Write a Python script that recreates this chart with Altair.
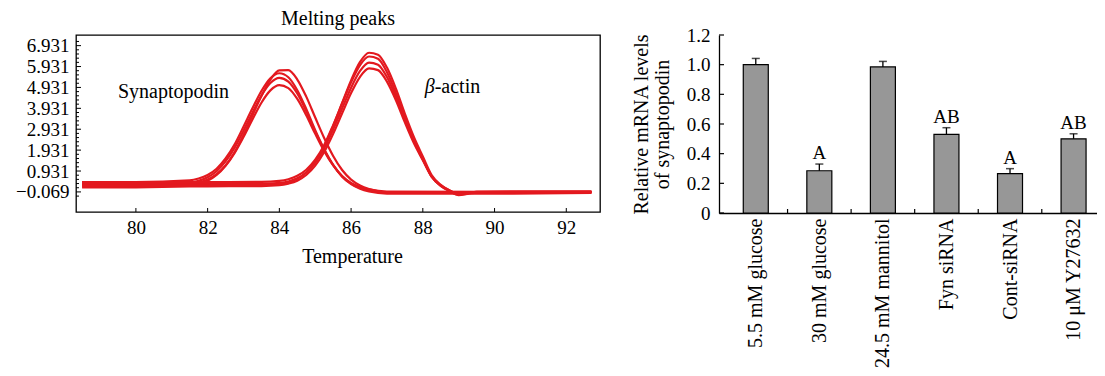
import altair as alt
import pandas as pd
import json

FONT = "Liberation Serif"
RED = "#e3191f"

# ---------------- Left panel: melting peaks ----------------
TEMP_TICKS = [80, 82, 84, 86, 88, 90, 92]
Y_TICKS = [-0.069, 0.931, 1.931, 2.931, 3.931, 4.931, 5.931, 6.931]
X_DOMAIN = [78.33, 92.94]
Y_DOMAIN = [-1.03, 7.44]

SYN_T = [78.5, 80.0, 81.5, 81.75, 82.0, 82.25, 82.5, 82.75, 83.0, 83.25, 83.5,
         83.75, 84.0, 84.25, 84.5, 84.75, 85.0, 85.25, 85.5, 85.75, 86.0,
         86.25, 86.5, 87.0, 90.0, 92.7]
SYN_1 = [0.15, 0.15, 0.22, 0.31, 0.46, 0.74, 1.18, 1.79, 2.56, 3.40, 4.20, 4.79,
         5.04, 4.90, 4.38, 3.60, 2.71, 1.88, 1.20, 0.69, 0.36, 0.16, 0.05,
         -0.05, -0.06, -0.05]
SYN_2 = [0.30, 0.30, 0.37, 0.46, 0.63, 0.92, 1.39, 2.04, 2.85, 3.72, 4.54, 5.14,
         5.39, 5.21, 4.64, 3.79, 2.82, 1.95, 1.22, 0.68, 0.33, 0.12, 0.00,
         -0.10, -0.10, -0.10]
SYN_3 = [0.40, 0.40, 0.48, 0.57, 0.74, 1.04, 1.53, 2.20, 3.05, 3.93, 4.76, 5.37,
         5.61, 5.42, 4.80, 3.90, 2.88, 1.97, 1.22, 0.66, 0.30, 0.08, -0.05,
         -0.15, -0.15, -0.12]
SYN_4 = [0.25, 0.25, 0.31, 0.38, 0.52, 0.78, 1.20, 1.83, 2.65, 3.59, 4.52, 5.31,
         5.75, 5.76, 5.31, 4.49, 3.49, 2.51, 1.65, 0.98, 0.52, 0.24, 0.07,
         -0.08, -0.08, -0.08]

ACT_T = [78.5, 82.0, 83.5, 84.0, 84.25, 84.5, 84.75, 85.0, 85.25, 85.5, 85.75,
         86.0, 86.25, 86.5, 86.75, 87.0, 87.25, 87.5, 87.75, 88.0, 88.25, 88.5,
         88.75, 89.0, 89.25, 89.5, 90.0, 92.7]
ACT_1 = [0.20, 0.20, 0.21, 0.25, 0.33, 0.47, 0.74, 1.19, 1.84, 2.71, 3.69, 4.66,
         5.44, 5.84, 5.76, 5.21, 4.32, 3.26, 2.27, 1.45, 0.65, 0.24, 0.00,
         -0.18, -0.12, -0.06, -0.05, -0.05]
ACT_2 = [0.30, 0.30, 0.31, 0.36, 0.43, 0.58, 0.86, 1.33, 2.01, 2.92, 3.92, 4.92,
         5.72, 6.12, 6.02, 5.43, 4.48, 3.37, 2.34, 1.48, 0.65, 0.22, -0.03,
         -0.22, -0.15, -0.08, -0.08, -0.07]
ACT_3 = [0.40, 0.40, 0.41, 0.46, 0.54, 0.70, 0.99, 1.47, 2.18, 3.13, 4.16, 5.18,
         6.00, 6.41, 6.30, 5.66, 4.66, 3.49, 2.42, 1.53, 0.66, 0.22, -0.03,
         -0.20, -0.16, -0.10, -0.10, -0.08]
ACT_4 = [0.25, 0.25, 0.26, 0.31, 0.39, 0.56, 0.86, 1.36, 2.10, 3.09, 4.19, 5.27,
         6.15, 6.59, 6.50, 5.88, 4.87, 3.67, 2.56, 1.63, 0.73, 0.27, 0.00,
         -0.17, -0.12, -0.07, -0.06, -0.06]

# ---------------- Right panel: bars ----------------
CATEGORIES = ["5.5 mM glucose", "30 mM glucose", "24.5 mM mannitol",
              "Fyn siRNA", "Cont-siRNA", "10 \u03bcM Y27632"]
MEANS = [1.00, 0.285, 0.985, 0.53, 0.265, 0.50]
ERRORS = [0.042, 0.045, 0.037, 0.045, 0.034, 0.034]
LETTERS = ["", "A", "", "AB", "A", "AB"]
BAR_Y_TICKS = [0, 0.2, 0.4, 0.6, 0.8, 1.0, 1.2]

LW, LH = 524, 177
RW, RH = 378, 178

# ---------- build left ----------
rows = []
for name, ts, vs in [("s1", SYN_T, SYN_1), ("s2", SYN_T, SYN_2), ("s3", SYN_T, SYN_3),
                     ("s4", SYN_T, SYN_4), ("a1", ACT_T, ACT_1), ("a2", ACT_T, ACT_2),
                     ("a3", ACT_T, ACT_3), ("a4", ACT_T, ACT_4)]:
    for t, v in zip(ts, vs):
        rows.append({"curve": name, "T": t, "v": v})
curves = pd.DataFrame(rows)

xs = alt.Scale(domain=X_DOMAIN, nice=False, zero=False)
ys = alt.Scale(domain=Y_DOMAIN, nice=False, zero=False)
LX_AXIS = alt.Axis(values=TEMP_TICKS, title="Temperature", format="d", ticks=False,
                   domain=False, grid=False, labelPadding=6, titlePadding=9,
                   titleX=LW / 2 + 14, labelFontSize=19, titleFontSize=20,
                   labelOverlap=False, tickCount=len(TEMP_TICKS))
LY_AXIS = alt.Axis(values=Y_TICKS, title=None, format=".3f", ticks=False,
                   domain=False, grid=False, labelPadding=7, labelFontSize=19,
                   labelOverlap=False, tickCount=len(Y_TICKS))

def lx(field):
    return alt.X(field, type="quantitative", scale=xs, axis=LX_AXIS)

def ly(field):
    return alt.Y(field, type="quantitative", scale=ys, axis=LY_AXIS)

lines = alt.Chart(curves).mark_line(
    interpolate="monotone", strokeWidth=2.2, color=RED, clip=True
).encode(x=lx("T"), y=ly("v"), detail="curve:N")

major_df = pd.DataFrame({"v": Y_TICKS})
minor_vals = [round(m + k * 0.2, 3) for m in Y_TICKS for k in (1, 2, 3, 4)]
minor_vals += [round(Y_TICKS[0] - 0.2, 3)]
minor_vals = [m for m in minor_vals if m < 7.2]
minor_df = pd.DataFrame({"v": minor_vals})
xt_df = pd.DataFrame({"T": TEMP_TICKS})

ymaj = alt.Chart(major_df).mark_rule(color="black", strokeWidth=1).encode(
    y=ly("v"), x=alt.value(0), x2=alt.value(5))
ymin = alt.Chart(minor_df).mark_rule(color="black", strokeWidth=1).encode(
    y=ly("v"), x=alt.value(0), x2=alt.value(3))
xtk = alt.Chart(xt_df).mark_rule(color="black", strokeWidth=1).encode(
    x=lx("T"), y=alt.value(LH), y2=alt.value(LH - 4))

ann = pd.DataFrame({"T": [81.05], "v": [4.72], "label": ["Synaptopodin"]})
ann_text = alt.Chart(ann).mark_text(fontSize=20, font=FONT, align="center",
                                    baseline="middle").encode(
    x=lx("T"), y=ly("v"), text="label:N")
beta_df = pd.DataFrame({"T": [88.33], "v": [4.93], "a": ["\u03b2"], "b": ["-actin"]})
beta_a = alt.Chart(beta_df).mark_text(fontSize=20, font=FONT, fontStyle="italic",
                                      align="right", baseline="middle").encode(
    x=lx("T"), y=ly("v"), text="a:N")
beta_b = alt.Chart(beta_df).mark_text(fontSize=20, font=FONT, align="left",
                                      baseline="middle").encode(
    x=lx("T"), y=ly("v"), text="b:N")

left = alt.layer(lines, ymaj, ymin, xtk, ann_text, beta_a, beta_b).properties(
    width=LW, height=LH,
    title=alt.Title("Melting peaks", fontSize=20, font=FONT, fontWeight="normal",
                    offset=6, color="black"),
    view=alt.ViewBackground(stroke="black", strokeWidth=1.3),
)

# ---------- build right ----------
bars_df = pd.DataFrame({
    "idx": list(range(len(CATEGORIES))),
    "mean": MEANS,
    "top": [m + e for m, e in zip(MEANS, ERRORS)],
    "letter": LETTERS,
})
bxs = alt.Scale(domain=[-0.5, 5.29], nice=False, zero=False)
bys = alt.Scale(domain=[0, 1.2], nice=False)
label_expr = json.dumps(CATEGORIES) + "[datum.value]"

RX_AXIS = alt.Axis(values=list(range(len(CATEGORIES))), labelExpr=label_expr,
                   title=None, labelAngle=270, labelAlign="right",
                   labelBaseline="middle", labelPadding=5, ticks=False, grid=False,
                   domain=True, domainColor="black", domainWidth=1.3,
                   labelFontSize=20, labelOverlap=False)
RY_AXIS = alt.Axis(values=BAR_Y_TICKS,
                   labelExpr="datum.value == 0 ? '0' : format(datum.value, '.1f')",
                   title=["Relative mRNA levels", "of synaptopodin"], titleFontSize=20,
                   titleFontWeight="normal", titleLineHeight=21, titlePadding=14,
                   ticks=False, grid=False, domain=True, domainColor="black",
                   domainWidth=1.3, labelPadding=9, labelFontSize=19,
                   labelOverlap=False, tickCount=len(BAR_Y_TICKS))

def rx(field):
    return alt.X(field, type="quantitative", scale=bxs, axis=RX_AXIS)

def ry(field):
    return alt.Y(field, type="quantitative", scale=bys, axis=RY_AXIS)

bars = alt.Chart(bars_df).mark_bar(size=25, color="#979797", stroke="black",
                                   strokeWidth=1.2).encode(x=rx("idx"), y=ry("mean"))
stems = alt.Chart(bars_df).mark_rule(color="black", strokeWidth=1.3).encode(
    x=rx("idx"), y=ry("mean"), y2="top:Q")
caps = alt.Chart(bars_df).mark_tick(orient="horizontal", size=8, thickness=1.5,
                                    color="black").encode(x=rx("idx"), y=ry("top"))
letters = alt.Chart(bars_df).mark_text(fontSize=19, font=FONT, baseline="alphabetic",
                                       dy=-5, color="black").encode(
    x=rx("idx"), y=ry("top"), text="letter:N")
bt_df = pd.DataFrame({"mean": BAR_Y_TICKS})
bytk = alt.Chart(bt_df).mark_rule(color="black", strokeWidth=1.2).encode(
    y=ry("mean"), x=alt.value(0), x2=alt.value(5))
bound_df = pd.DataFrame({"idx": [i + 0.5 for i in range(len(CATEGORIES) - 1)]})
bxtk = alt.Chart(bound_df).mark_rule(color="black", strokeWidth=1.2).encode(
    x=rx("idx"), y=alt.value(RH), y2=alt.value(RH - 4))

right = alt.layer(bars, stems, caps, letters, bytk, bxtk).properties(
    width=RW, height=RH)

chart = alt.hconcat(left, right, spacing=119, bounds="flush").properties(
    padding={"left": 6, "top": 0, "right": 0, "bottom": 0}
).configure(
    font=FONT,
).configure_view(
    stroke=None
).configure_axis(
    labelFont=FONT, titleFont=FONT, labelColor="black", titleColor="black",
    titleFontWeight="normal", labelOverlap=False
).configure_title(
    font=FONT
)

chart.save("out.html", embed_options={"renderer": "svg", "actions": False})
